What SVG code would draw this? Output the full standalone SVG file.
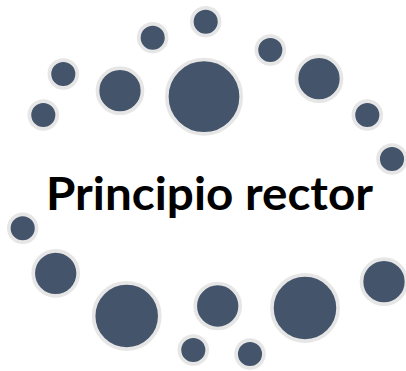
<svg xmlns="http://www.w3.org/2000/svg" width="406" height="371" viewBox="0 0 406 371">
<style>
.c{fill:#44546A;stroke:#E6E6E6;stroke-width:3.7}
.t{font-family:Lato,"Open Sans","Liberation Sans",sans-serif;font-weight:bold;font-size:45px;fill:#000}
</style>
<rect width="406" height="371" fill="#fff"/>
<g id="circles">
<g id="n1"><circle class="c" cx="205.7" cy="21.7" r="13.9"/></g>
<g id="n2"><circle class="c" cx="152.7" cy="37.7" r="13.9"/></g>
<g id="n3"><circle class="c" cx="270.3" cy="50" r="13.9"/></g>
<g id="n4"><circle class="c" cx="63.3" cy="74" r="13.9"/></g>
<g id="n5"><circle class="c" cx="120" cy="90.7" r="22.5"/></g>
<g id="n6"><circle class="c" cx="204" cy="96.7" r="37.2"/></g>
<g id="n7"><circle class="c" cx="319" cy="78.7" r="22.5"/></g>
<g id="n8"><circle class="c" cx="43.3" cy="115" r="13.9"/></g>
<g id="n9"><circle class="c" cx="367.3" cy="115" r="13.9"/></g>
<g id="n10"><circle class="c" cx="392" cy="159" r="13.9"/></g>
<g id="n11"><circle class="c" cx="22.7" cy="228.3" r="13.9"/></g>
<g id="n12"><circle class="c" cx="55.7" cy="273.3" r="22.5"/></g>
<g id="n13"><circle class="c" cx="126.7" cy="316" r="33.1"/></g>
<g id="n14"><circle class="c" cx="217.7" cy="306" r="22.5"/></g>
<g id="n15"><circle class="c" cx="305" cy="308" r="33.1"/></g>
<g id="n16"><circle class="c" cx="384" cy="281.7" r="22.5"/></g>
<g id="n17"><circle class="c" cx="193.3" cy="350" r="13.9"/></g>
<g id="n18"><circle class="c" cx="250" cy="354" r="13.9"/></g>
</g>
<g id="label"><text class="t" x="46" y="210" textLength="327" lengthAdjust="spacingAndGlyphs">Principio rector</text></g>
</svg>
